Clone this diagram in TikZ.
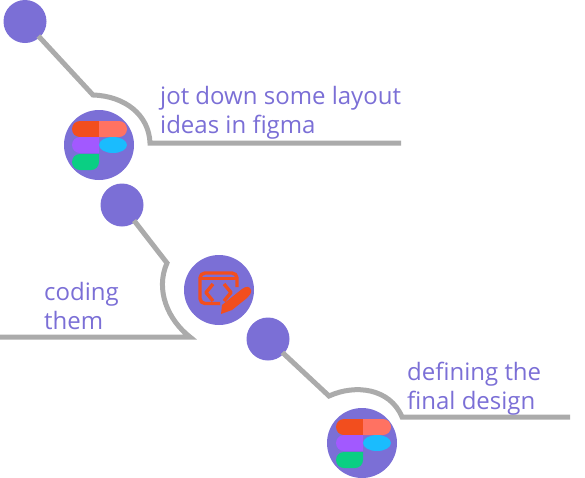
\documentclass[tikz,border=0pt]{standalone}
\usepackage{fontspec}
\setmainfont{Open Sans}
\definecolor{dotpurple}{HTML}{7B6FD6}
\definecolor{railgray}{HTML}{ABABAB}
\definecolor{figred}{HTML}{F24E1E}
\definecolor{figsalmon}{HTML}{FF7262}
\definecolor{figviolet}{HTML}{A259FF}
\definecolor{figblue}{HTML}{1ABCFE}
\definecolor{figgreen}{HTML}{0ACF83}
\tikzset{
  dot/.style={circle,fill=dotpurple,inner sep=0pt,minimum size=43pt},
  badge/.style={circle,fill=dotpurple,inner sep=0pt,minimum size=70pt},
  rail/.style={draw=railgray,line width=5pt,line join=miter,shorten <=-2pt},
  note/.style={text=dotpurple,align=left,anchor=west,inner sep=0pt,font=\fontsize{24}{29}\selectfont},
  codeline/.style={draw=figred,line width=3.4pt,line join=round}
}
\begin{document}
\begin{tikzpicture}[x=1pt,y=-1pt]
\useasboundingbox (0,0) rectangle (585,477);
\node [dot] (dotA) at (25,21.5) {};
\node [dot] (dotB) at (122,205) {};
\node [dot] (dotC) at (268,339) {};
\node [badge] (figmaA) at (99,145) {};
\node [badge] (codeB) at (219,290) {};
\node [badge] (figmaC) at (362,443) {};
\coordinate (elbowA) at (93,95);
\coordinate (turnA) at (150,143);
\coordinate (endA) at (401,143);
\coordinate (elbowB) at (167,263);
\coordinate (turnB) at (190,337);
\coordinate (endB) at (0,337);
\coordinate (elbowC) at (329,396);
\coordinate (turnC) at (402,417);
\coordinate (endC) at (570,417);
\draw [rail] (dotA) -- (elbowA) .. controls (125,96) and (149,115) .. (turnA) -- (endA);
\draw [rail] (dotB) -- (elbowB) .. controls (155,290) and (168,320) .. (turnB) -- (endB);
\draw [rail] (dotC) -- (elbowC) .. controls (355,384) and (390,388) .. (turnC) -- (endC);
\node [note] (jotText) at (160,113) {jot down some layout\\ideas in figma};
\node [note] (codingText) at (44,306) {coding\\them};
\node [note] (finalText) at (407,389) {defining the\\final design};
\foreach \cx/\cy in {99/145,363/443} {
  \fill [figred] (\cx,\cy-24) [rounded corners=8pt] -- (\cx-27,\cy-24) -- (\cx-27,\cy-8) [sharp corners] -- (\cx,\cy-8) -- cycle;
  \fill [figsalmon] (\cx,\cy-24) [rounded corners=8pt] -- (\cx+28,\cy-24) -- (\cx+28,\cy-8) [sharp corners] -- (\cx,\cy-8) -- cycle;
  \fill [figviolet] (\cx,\cy-8) [rounded corners=8pt] -- (\cx-27,\cy-8) -- (\cx-27,\cy+8) [sharp corners] -- (\cx,\cy+8) -- cycle;
  \fill [figblue] (\cx+14,\cy) ellipse (14 and 8);
  \fill [figgreen] (\cx,\cy+9) [rounded corners=8pt] -- (\cx-27,\cy+9) -- (\cx-27,\cy+25) -- (\cx,\cy+25) [sharp corners] -- cycle;
}
\draw [codeline,rounded corners=5pt] (220,303.5) -- (200,303.5) -- (200,273) -- (237,273) -- (237,287);
\draw [codeline] (200,278.5) -- (237,278.5);
\draw [codeline] (213,284) -- (206,292.5) -- (213,301);
\draw [codeline] (224,284) -- (231,292.5) -- (224,301);
\fill [figred] (221,314) -- (222,305) -- (242,289) .. controls (246,286) and (250,286) .. (251,290) .. controls (252,293) and (249,296) .. (247,298) -- (232,310) -- cycle;
\end{tikzpicture}
\end{document}
